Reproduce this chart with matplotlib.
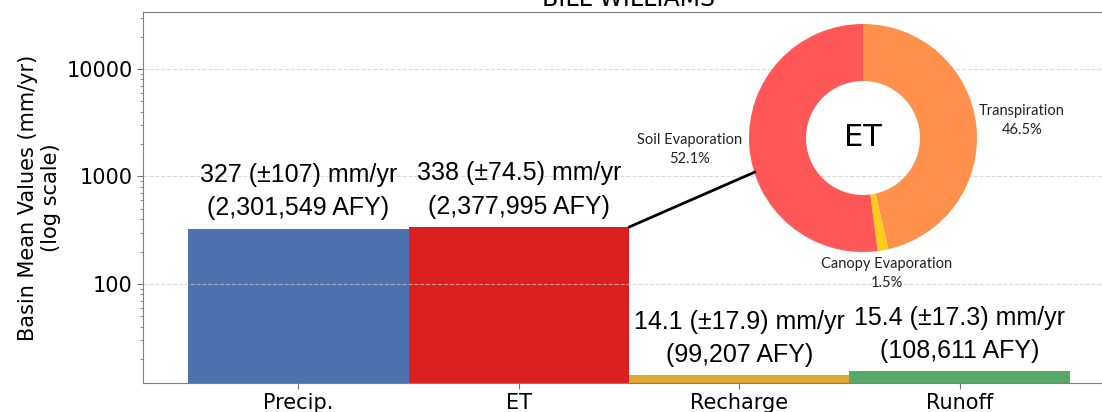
import matplotlib as mpl
mpl.use('Agg')

import matplotlib.pyplot as plt
from matplotlib.patches import ConnectionPatch
import numpy as np

# values
categories = ['Precip.', 'ET', 'Recharge', 'Runoff']
means = [327, 338, 14.1, 15.4]
stds = ['107', '74.5', '17.9', '17.3']
afy = ['2,301,549', '2,377,995', '99,207', '108,611']
bar_colors = ['#4C72B0', '#DC1F1F', '#E0A830', '#55A868']

et_parts = ['Transpiration', 'Canopy Evaporation', 'Soil Evaporation']
et_pct = [46.5, 1.5, 52.1]
et_colors = ['#FF914D', '#FFCC1A', '#FF5757']

W, H = 1102, 412
fig = plt.figure(figsize=(W / 100, H / 100), dpi=100)
ax = fig.add_axes([143 / W, 1 - 383 / H, (1115 - 143) / W, (383 - 12) / H])

x = np.arange(len(categories))
ax.bar(x, means, width=1.0, color=bar_colors)
ax.set_yscale('log')
ax.set_ylim(12, 33800)
ax.set_xlim(-0.705, 3.705)
ax.set_xticks(x)
ax.set_xticklabels(categories, fontsize=15)
ax.tick_params(axis='y', labelsize=15)
ax.tick_params(axis='both', which='major', length=4, color='0.45')
ax.tick_params(axis='y', which='minor', length=2, color='0.45')
ax.set_ylabel('Basin Mean Values (mm/yr)\n(log scale)', fontsize=15, labelpad=4)
ax.yaxis.set_major_formatter(mpl.ticker.FuncFormatter(lambda v, p: f'{v:.0f}'))
ax.grid(axis='y', which='major', linestyle='--', color='#cccccc', alpha=0.7, lw=0.8)
ax.set_axisbelow(False)
for s in ax.spines.values():
    s.set_color('0.5')
ax.set_title('BILL WILLIAMS', fontsize=17, pad=4)

# labels above bars
for xi, m, s, a in zip(x, means, stds, afy):
    ax.annotate(f'{m:g} (\u00b1{s}) mm/yr\n({a} AFY)', (xi, m),
                xytext=(0, 6), textcoords='offset points', ha='center', va='bottom',
                fontsize=18, family='Liberation Sans', linespacing=1.5)

# ET donut inset
cx, cy, r = 863, 138, 114
ax2 = fig.add_axes([636 / W, 1 - 300 / H, (1090 - 636) / W, (300 - 14) / H])
ax2.pie(et_pct, colors=et_colors, startangle=90, counterclock=False,
        radius=1, wedgeprops=dict(width=0.5, linewidth=0))
ax2.set_axis_on()
ax2.set_aspect('auto')
ax2.set_xlim(-(cx - 636) / r, (1090 - cx) / r)
ax2.set_ylim(-(300 - cy) / r, (cy - 14) / r)
ax2.set_xticks([])
ax2.set_yticks([])
for s in ax2.spines.values():
    s.set_visible(False)
ax2.set_facecolor('white')
ax2.text(0, 0, 'ET', ha='center', va='center', fontsize=22)

label_pos = [(1.395, 0.154), (0.21, -1.189), (-1.518, -0.10)]
for name, p, (lx, ly) in zip(et_parts, et_pct, label_pos):
    ax2.text(lx, ly, f'{name}\n{p}%', ha='center', va='center', fontsize=10.5,
             family='Lato', color='#222222', linespacing=1.4)

con = ConnectionPatch(xyA=(1.5, means[1]), coordsA=ax.transData,
                      xyB=((755 - cx) / r, (cy - 172) / r), coordsB=ax2.transData,
                      color='black', lw=2)
fig.add_artist(con)

plt.savefig('out.png', dpi=100)
